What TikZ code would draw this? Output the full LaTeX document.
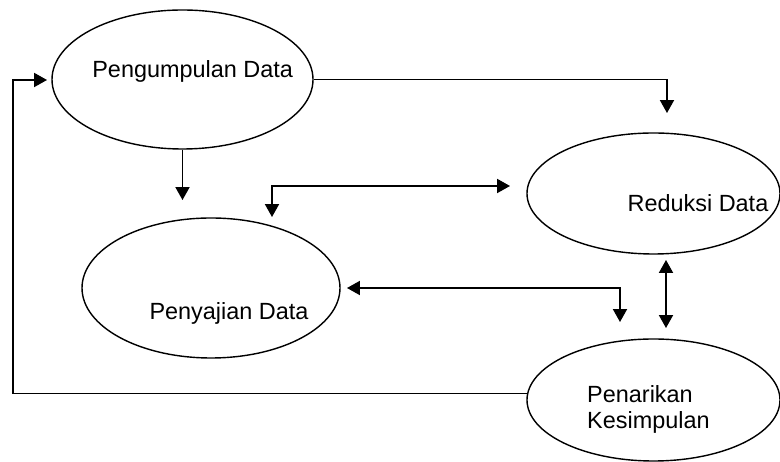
\documentclass[tikz,border=0pt]{standalone}
\usepackage{fontspec}
\setmainfont{Liberation Sans}
\usetikzlibrary{shapes.geometric,arrows.meta}
\tikzset{
	proses/.style={draw, ellipse, line width=1.2pt, inner sep=0pt},
	teks/.style={font=\fontsize{20}{23}\selectfont, align=left, inner sep=0pt},
	panah/.style={line width=1.3pt, -{Triangle[width=12pt,length=11pt]}},
	panahdua/.style={line width=1.3pt, {Triangle[width=12pt,length=11pt]}-{Triangle[width=12pt,length=11pt]}},
}

\begin{document}
\begin{tikzpicture}
			%%%%% START %%%%%
			\useasboundingbox (0, 0) rectangle (23.4, 13.86);
			
			\node[proses, minimum width=7.83cm, minimum height=4.17cm] (kumpul) at (5.475, 11.475) {};
			\node[teks, anchor=base] at (5.78, 11.52) {Pengumpulan Data};
			
			\node[proses, minimum width=7.59cm, minimum height=3.63cm] (reduksi) at (19.605, 8.055) {};
			\node[teks, anchor=base] at (20.94, 7.5) {Reduksi Data};
			
			\node[proses, minimum width=7.74cm, minimum height=4.2cm] (saji) at (6.33, 5.22) {};
			\node[teks, anchor=base] at (6.87, 4.26) {Penyajian Data};
			
			\node[proses, minimum width=7.59cm, minimum height=3.66cm] (tarik) at (19.605, 1.86) {};
			\node[teks, anchor=base west] at (17.61, 0.99) {Penarikan\\Kesimpulan};
			
			\coordinate (a1) at (20.01, 10.47);
			\coordinate (b1) at (5.475, 7.86);
			\coordinate (c1) at (8.16, 7.35);
			\coordinate (c2) at (15.3, 8.28);
			\coordinate (d1) at (10.41, 5.22);
			\coordinate (d2) at (18.6, 4.2);
			\coordinate (e1) at (19.98, 6.06);
			\coordinate (e2) at (19.98, 4.02);
			\coordinate (f1) at (0.39, 11.46);
			\coordinate (f2) at (1.41, 11.46);
			
			\draw[panah] (kumpul.east) -| (a1);
			\draw[panah] (kumpul.south) -- (b1);
			\draw[panahdua] (c1) |- (c2);
			\draw[panahdua] (d1) -| (d2);
			\draw[panahdua] (e1) -- (e2);
			\draw[panah] (tarik.177) -| (f1) -- (f2);
			%%%%% END %%%%%
\end{tikzpicture}
\end{document}
